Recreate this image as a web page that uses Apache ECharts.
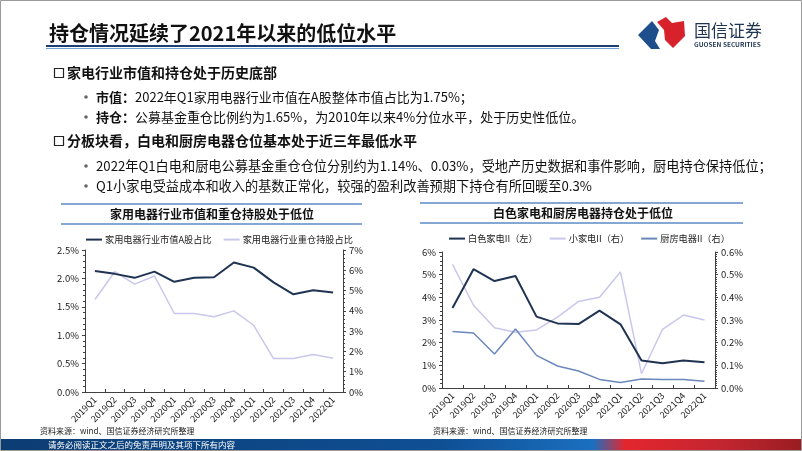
<!DOCTYPE html>
<html><head><meta charset="utf-8">
<script src="https://cdn.jsdelivr.net/npm/echarts@6/dist/echarts.min.js"></script>
<style>html,body{margin:0;padding:0;background:#fff}#c{width:802px;height:451px}</style>
</head><body><div id="c"></div>
<script>
const quarters = ['2019Q1','2019Q2','2019Q3','2019Q4','2020Q1','2020Q2','2020Q3','2020Q4','2021Q1','2021Q2','2021Q3','2021Q4','2022Q1'];
const marketShare = [2.13,2.08,2.01,2.12,1.94,2.01,2.02,2.28,2.19,1.93,1.72,1.79,1.75];
const fundHolding = [4.56,5.93,5.32,5.72,3.87,3.87,3.71,4.00,3.29,1.65,1.65,1.85,1.66];
const whiteGoods = [3.53,5.24,4.72,4.94,3.15,2.85,2.82,3.41,2.81,1.21,1.09,1.21,1.14];
const smallAppl = [0.545,0.365,0.266,0.246,0.256,0.313,0.382,0.400,0.512,0.063,0.259,0.322,0.300];
const kitchenAppl = [0.249,0.243,0.150,0.260,0.144,0.097,0.075,0.038,0.024,0.040,0.037,0.038,0.030];
const leftTicksA = {min:0,max:2.5,interval:0.5};
const rightTicksA = {min:0,max:7,interval:1};
const leftTicksB = {min:0,max:6,interval:1};
const rightTicksB = {min:0,max:0.6,interval:0.1};

const FF = '"Noto Sans CJK SC","Noto Sans",sans-serif';
const NAVY = '#1f3352', LAV = '#c9c7ec', MID = '#6b87bb', LINEBLUE = '#5b8bc4', AX = '#404040';
const chart = echarts.init(document.getElementById('c'), null, {renderer:'canvas'});

function xAxisCfg(gi){
  return {type:'category', gridIndex:gi, data:quarters, boundaryGap:true,
    axisLine:{lineStyle:{color:AX,width:1}},
    axisTick:{show:true, interval:0, inside:true, length:3, lineStyle:{color:AX}},
    axisLabel:{rotate:45, interval:0, fontSize:9, color:'#222', fontFamily:FF, margin:6}};
}
function yAxisCfg(gi, pos, t, dec, minorN){
  return {type:'value', gridIndex:gi, position:pos, min:t.min, max:t.max, interval:t.interval,
    splitLine:{show:false},
    axisLine:{show:true, lineStyle:{color:AX,width:1}},
    axisTick:{show:true, length:3, lineStyle:{color:AX}},
    minorTick:{show:true, splitNumber:minorN, length:2, lineStyle:{color:AX}},
    axisLabel:{fontSize:9.5, color:'#222', fontFamily:FF, margin:6,
      formatter:v=>(dec?v.toFixed(dec):Math.round(v))+'%'}};
}
function textEl(x,y,text,size,weight,color,align){
  return {type:'text', x:x, y:y, style:{text:text, fontSize:size, fontWeight:weight||'normal', fontFamily:FF, fill:color||'#111', align:align||'left', verticalAlign:'middle'}};
}
function richEl(x,y,bold,rest){
  return {type:'text', x:x, y:y, style:{text:'{b|'+bold+'}{n|'+rest+'}', verticalAlign:'middle', fontFamily:FF,
    rich:{b:{fontSize:13, fontWeight:'bold', fontFamily:FF, fill:'#111'}, n:{fontSize:13, fontFamily:FF, fill:'#111'}}}};
}
function lineEl(x1,y1,x2,y2,color,w){
  return {type:'line', shape:{x1:x1,y1:y1,x2:x2,y2:y2}, style:{stroke:color, lineWidth:w}};
}
function dot(x,y){ return {type:'circle', shape:{cx:x,cy:y,r:1.8}, style:{fill:'#666'}}; }

const graphics = [
  {type:'rect', shape:{x:0.5,y:0.5,width:801,height:450}, style:{fill:'none', stroke:'#9a9a9a', lineWidth:1}},
  textEl(49,33,'持仓情况延续了2021年以来的低位水平',20,'bold','#111'),
  lineEl(46,46,619,46,'#1b3f73',2.2),
  lineEl(46,48.5,619,48.5,'#6fa0d6',1),
  // logo
  {type:'polygon', shape:{points:[[638,35],[652,21],[659,30],[655,41],[660,49],[651,49]]}, style:{fill:'#1f4e8c'}},
  {type:'polygon', shape:{points:[[657,22],[666,17],[672,23],[684,21],[685,36],[673,48],[665,40],[664,30]]}, style:{fill:'#d8222b'}},
  textEl(694,31,'国信证券',17,'normal','#1f3352'),
  textEl(694,45,'GUOSEN SECURITIES',6.5,'bold','#1f3352'),
  // bullets
  {type:'rect', shape:{x:54.5,y:68.5,width:9,height:9}, style:{fill:'none', stroke:'#222', lineWidth:1.2}},
  textEl(67,73,'家电行业市值和持仓处于历史底部',14,'bold','#111'),
  dot(86,97),
  richEl(96,97,'市值：','2022年Q1家用电器行业市值在A股整体市值占比为1.75%；'),
  dot(86,117),
  richEl(96,117,'持仓：','公募基金重仓比例约为1.65%，为2010年以来4%分位水平，处于历史性低位。'),
  {type:'rect', shape:{x:54.5,y:136.5,width:9,height:9}, style:{fill:'none', stroke:'#222', lineWidth:1.2}},
  textEl(67,141,'分板块看，白电和厨房电器仓位基本处于近三年最低水平',14,'bold','#111'),
  dot(86,166),
  textEl(96,166,'2022年Q1白电和厨电公募基金重仓仓位分别约为1.14%、0.03%，受地产历史数据和事件影响，厨电持仓保持低位；',13.2,'normal','#111'),
  dot(86,186),
  textEl(96,186,'Q1小家电受益成本和收入的基数正常化，较强的盈利改善预期下持仓有所回暖至0.3%',13.2,'normal','#111'),
  // chart titles
  lineEl(61,204,362,204,LINEBLUE,1.5),
  lineEl(61,224,362,224,LINEBLUE,1.5),
  textEl(212,214,'家用电器行业市值和重仓持股处于低位',12,'bold','#111','center'),
  lineEl(420,203,743,203,LINEBLUE,1.5),
  lineEl(420,223,743,223,LINEBLUE,1.5),
  textEl(583,213,'白色家电和厨房电器持仓处于低位',12,'bold','#111','center'),
  // sources
  textEl(40,431,'资料来源：wind、国信证券经济研究所整理',8,'normal','#222'),
  textEl(433,431,'资料来源：wind、国信证券经济研究所整理',8,'normal','#222'),
  // footer
  {type:'rect', shape:{x:1,y:439,width:800,height:11}, style:{fill:new echarts.graphic.LinearGradient(0,0,1,0,[
    {offset:0,color:'#0c3d73'},{offset:0.55,color:'#0f4f94'},{offset:0.74,color:'#1a6fc0'},
    {offset:0.78,color:'#e3262e'},{offset:0.9,color:'#c32630'},{offset:1,color:'#9a1c22'}])}},
  textEl(48,444.5,'请务必阅读正文之后的免责声明及其项下所有内容',8.5,'normal','#ffffff')
];

const option = {
  animation:false,
  textStyle:{fontFamily:FF},
  grid:[
    {left:85, right:459, top:250, bottom:59},
    {left:442, right:87, top:252, bottom:63}
  ],
  legend:[
    {data:['家用电器行业市值A股占比','家用电器行业重仓持股占比'], left:81, top:230, itemWidth:16, itemHeight:2, itemGap:12, itemStyle:{borderWidth:0}, icon:'rect',
     textStyle:{fontSize:9.2, color:'#222', fontFamily:FF, padding:[0,0,0,-2]}},
    {data:['白色家电II（左）','小家电II（右）','厨房电器II（右）'], left:444, top:229, itemWidth:16, itemHeight:2, itemGap:12, icon:'rect',
     textStyle:{fontSize:9.2, color:'#222', fontFamily:FF, padding:[0,0,0,-2]}}
  ],
  xAxis:[xAxisCfg(0), xAxisCfg(1)],
  yAxis:[
    yAxisCfg(0,'left',leftTicksA,1,5),
    yAxisCfg(0,'right',rightTicksA,0,5),
    yAxisCfg(1,'left',leftTicksB,0,5),
    yAxisCfg(1,'right',rightTicksB,1,10)
  ],
  series:[
    {name:'家用电器行业市值A股占比', type:'line', xAxisIndex:0, yAxisIndex:0, data:marketShare, showSymbol:false, lineStyle:{color:NAVY,width:2}, itemStyle:{color:NAVY}, z:3},
    {name:'家用电器行业重仓持股占比', type:'line', xAxisIndex:0, yAxisIndex:1, data:fundHolding, showSymbol:false, lineStyle:{color:LAV,width:1.5}, itemStyle:{color:LAV}, z:2},
    {name:'白色家电II（左）', type:'line', xAxisIndex:1, yAxisIndex:2, data:whiteGoods, showSymbol:false, lineStyle:{color:NAVY,width:2}, itemStyle:{color:NAVY}, z:3},
    {name:'小家电II（右）', type:'line', xAxisIndex:1, yAxisIndex:3, data:smallAppl, showSymbol:false, lineStyle:{color:LAV,width:1.5}, itemStyle:{color:LAV}, z:2},
    {name:'厨房电器II（右）', type:'line', xAxisIndex:1, yAxisIndex:3, data:kitchenAppl, showSymbol:false, lineStyle:{color:MID,width:1.5}, itemStyle:{color:MID}, z:2}
  ],
  graphic:graphics
};
chart.setOption(option);
</script></body></html>
